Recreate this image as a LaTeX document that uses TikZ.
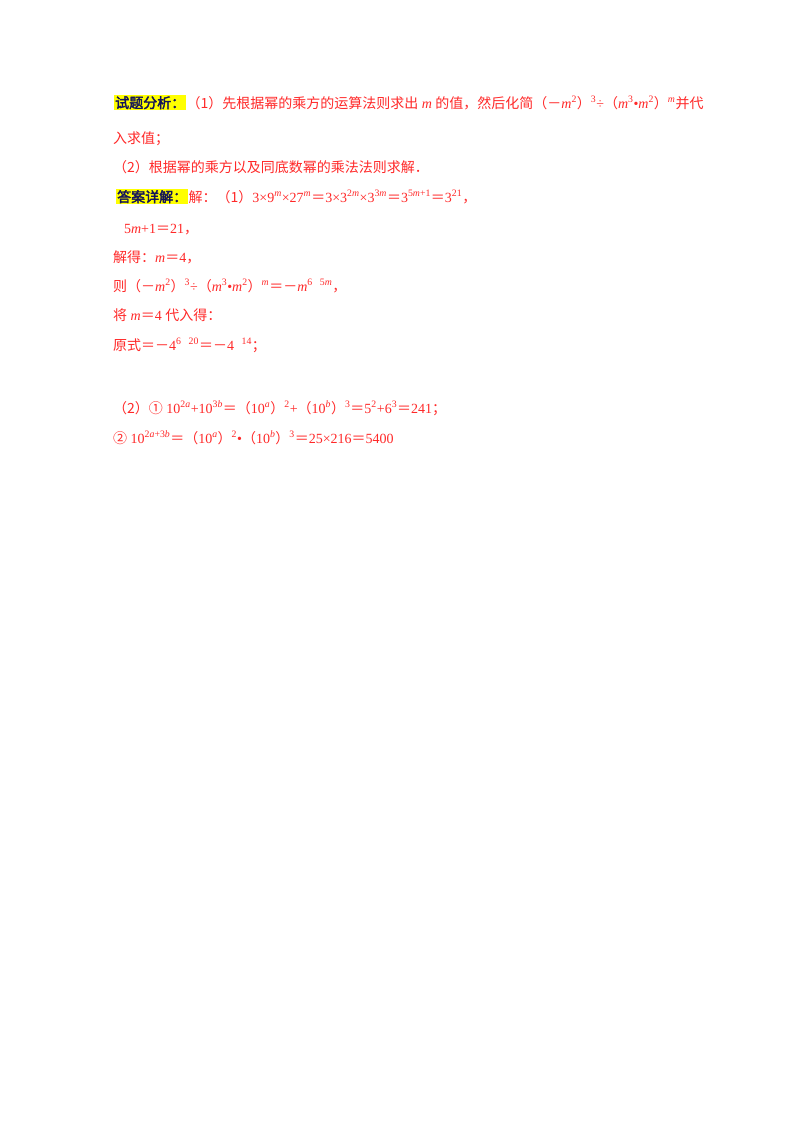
\documentclass[tikz,border=0pt]{standalone}
\usepackage{fontspec}
\setmainfont{Liberation Serif}
\newfontfamily\cjk{Noto Sans CJK SC}[AutoFakeBold=2.5]
\newcommand\mi[1]{\textit{#1}}
\newcommand\sps[1]{\textsuperscript{#1}}
\newcommand\cc[1]{{\cjk #1}}
\definecolor{txt}{RGB}{255,40,40}
\definecolor{hl}{RGB}{255,255,0}
\definecolor{lab}{RGB}{20,20,90}
\begin{document}
\begin{tikzpicture}[x=1pt,y=-1pt,
  ln/.style={anchor=base west,inner sep=0pt,text=txt,font=\fontsize{14}{16}\selectfont},
  lb/.style={anchor=base west,inner sep=1pt,fill=hl,text=lab,font=\fontsize{14}{16}\selectfont\cjk\bfseries}]
\useasboundingbox (0,0) rectangle (800,1132);
\node[lb] (l1a) at (114,108) {试题分析：};
\node[ln,anchor=base west] (l1) at (l1a.base east) {\cc{（1）先根据幂的乘方的运算法则求出} \mi{m} \cc{的值，然后化简（－}\mi{m}\sps{2}\cc{）}\sps{3}÷\cc{（}\mi{m}\sps{3}•\mi{m}\sps{2}\cc{）}\sps{\mi{m}}\cc{并代}};
\node[ln] (l2) at (113,143) {\cc{入求值；}};
\node[ln] (l3) at (113,172) {\cc{（2）根据幂的乘方以及同底数幂的乘法法则求解．}};
\node[lb] (l4a) at (116,202) {答案详解：};
\node[ln] (l4) at (l4a.base east) {\cc{解：（1）}3×9\sps{\mi{m}}×27\sps{\mi{m}}\cc{＝}3×3\sps{2\mi{m}}×3\sps{3\mi{m}}\cc{＝}3\sps{5\mi{m}+1}\cc{＝}3\sps{21}\cc{，}};
\node[ln] (l5) at (113,233) {∴5\mi{m}+1\cc{＝}21\cc{，}};
\node[ln] (l6) at (113,262) {\cc{解得：}\mi{m}\cc{＝}4\cc{，}};
\node[ln] (l7) at (113,291) {\cc{则（－}\mi{m}\sps{2}\cc{）}\sps{3}÷\cc{（}\mi{m}\sps{3}•\mi{m}\sps{2}\cc{）}\sps{\mi{m}}\cc{＝－}\mi{m}\sps{6－5\mi{m}}\cc{，}};
\node[ln] (l8) at (113,320) {\cc{将} \mi{m}\cc{＝}4 \cc{代入得：}};
\node[ln] (l9) at (113,350) {\cc{原式＝－}4\sps{6－20}\cc{＝－}4\sps{－14}\cc{；}};
\node[ln] (l10) at (113,413) {\cc{（2）①} 10\sps{2\mi{a}}+10\sps{3\mi{b}}\cc{＝（}10\sps{\mi{a}}\cc{）}\sps{2}+\cc{（}10\sps{\mi{b}}\cc{）}\sps{3}\cc{＝}5\sps{2}+6\sps{3}\cc{＝}241\cc{；}};
\node[ln] (l11) at (113,443) {\cc{②} 10\sps{2\mi{a}+3\mi{b}}\cc{＝（}10\sps{\mi{a}}\cc{）}\sps{2}•\cc{（}10\sps{\mi{b}}\cc{）}\sps{3}\cc{＝}25×216\cc{＝}5400．};
\end{tikzpicture}
\end{document}
